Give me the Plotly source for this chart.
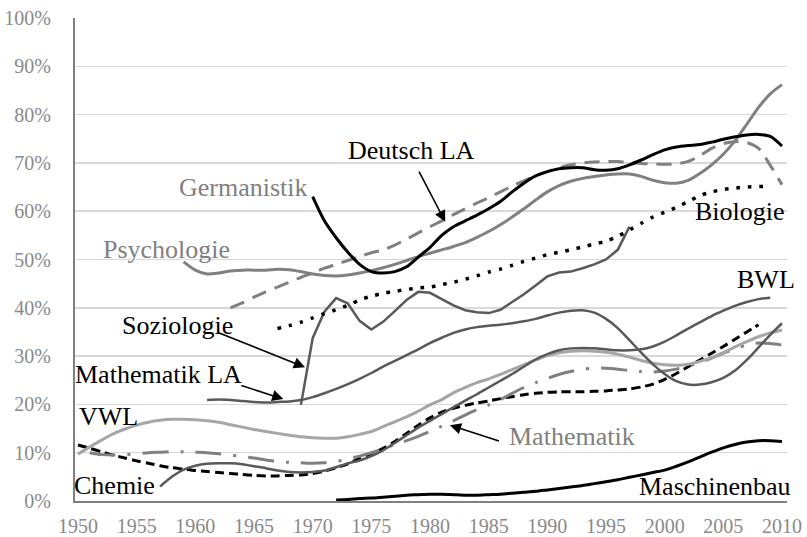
import plotly.graph_objects as go

# ---------------- data (share of women, %) ----------------
germanistik_start = 1970
germanistik = [63.0, 58.0, 54.5, 51.5, 49.0, 47.5, 47.2, 47.5, 48.5, 50.5,
               52.5, 55.0, 56.8, 58.0, 59.2, 60.5, 62.0, 64.0, 65.8, 67.3,
               68.2, 68.8, 69.0, 69.0, 68.6, 68.5, 68.8, 69.6, 70.6, 71.7,
               72.7, 73.3, 73.6, 73.8, 74.3, 74.9, 75.4, 75.8, 75.9, 75.5, 73.5]

psychologie_start = 1959
psychologie = [49.5, 47.8, 47.0, 47.2, 47.6, 47.8, 47.8, 47.8, 48.0, 47.9,
               47.5, 47.0, 46.7, 46.6, 46.8, 47.2, 47.7, 48.3, 49.0, 49.8,
               50.6, 51.3, 52.0, 52.7, 53.5, 54.6, 55.8, 57.2, 58.8, 60.5,
               62.3, 64.0, 65.3, 66.2, 66.8, 67.2, 67.5, 67.7, 67.7, 67.2,
               66.4, 65.9, 65.8, 66.4, 67.8, 69.6, 71.8, 74.6, 78.0, 81.5,
               84.3, 86.2]

deutsch_la_start = 1963
deutsch_la = [40.0, 41.0, 42.2, 43.3, 44.3, 45.3, 46.3, 47.2, 48.2, 49.0,
              49.8, 50.6, 51.4, 52.0, 53.0, 54.2, 55.5, 56.8, 58.0, 59.3,
              60.5, 61.7, 62.8, 64.0, 65.2, 66.3, 67.3, 68.2, 69.0, 69.6,
              70.0, 70.2, 70.3, 70.3, 70.1, 69.9, 69.8, 69.7, 69.8, 70.3,
              71.5, 73.0, 74.0, 74.4, 74.2, 73.0, 69.5, 65.5]

biologie_start = 1967
biologie = [35.7, 36.3, 37.0, 37.9, 38.8, 39.6, 40.5, 41.6, 42.4, 43.0,
            43.4, 43.8, 44.1, 44.3, 44.8, 45.3, 45.9, 46.6, 47.4, 48.0,
            48.8, 49.6, 50.3, 51.0, 51.5, 52.0, 52.6, 53.2, 53.8, 54.8,
            56.1, 57.5, 58.8, 59.8, 60.8, 62.0, 63.2, 64.0, 64.5, 64.8,
            65.0, 65.1, 65.2]

soziologie_start = 1969
soziologie = [19.9, 33.7, 39.2, 42.0, 40.9, 37.3, 35.5, 37.1, 39.3, 41.6,
              43.3, 43.1, 41.8, 40.5, 39.5, 39.1, 38.9, 39.6, 41.2, 42.8,
              44.6, 46.5, 47.3, 47.5, 48.2, 49.0, 50.0, 52.0, 56.8]

mathe_la_start = 1961
mathe_la = [20.9, 21.0, 20.9, 20.7, 20.5, 20.4, 20.5, 20.6, 20.9, 21.5,
            22.3, 23.2, 24.2, 25.3, 26.5, 27.8, 29.0, 30.2, 31.4, 32.7,
            33.8, 34.8, 35.5, 36.0, 36.3, 36.5, 36.8, 37.2, 37.7, 38.4,
            39.0, 39.4, 39.5, 39.0, 37.7, 35.8, 33.3, 30.7, 28.3, 26.3,
            24.8, 24.1, 24.1, 24.6, 25.5, 27.0, 29.2, 31.8, 34.4, 36.8]

bwl_start = 1957
bwl = [3.0, 5.0, 6.5, 7.3, 7.7, 7.8, 7.8, 7.6, 7.2, 6.8,
       6.3, 6.0, 5.9, 6.0, 6.3, 7.0, 7.8, 8.4, 9.3, 10.5,
       12.0, 13.6, 15.2, 16.6, 18.0, 19.4, 20.8, 22.1, 23.5, 24.9,
       26.3, 27.8, 29.3, 30.4, 31.2, 31.6, 31.7, 31.6, 31.4, 31.2,
       31.2, 31.4, 32.0, 33.0, 34.3, 35.7, 37.0, 38.3, 39.4, 40.4,
       41.2, 41.8, 42.1]

vwl_start = 1950
vwl = [9.7, 11.2, 12.6, 13.9, 14.9, 15.7, 16.3, 16.7, 16.9, 16.9,
       16.8, 16.6, 16.3, 15.8, 15.3, 14.8, 14.4, 14.0, 13.6, 13.3,
       13.1, 13.0, 13.0, 13.3, 13.8, 14.4, 15.4, 16.4, 17.4, 18.6,
       19.9, 21.0, 22.4, 23.5, 24.5, 25.3, 26.2, 27.2, 28.2, 29.2,
       30.1, 30.7, 31.0, 31.1, 31.0, 30.8, 30.4, 29.8, 29.1, 28.5,
       28.2, 28.1, 28.3, 28.9, 29.7, 30.7, 31.9, 33.0, 34.0, 34.8, 35.4]

mathematik_start = 1951
mathematik = [10.0, 9.6, 9.5, 9.6, 9.8, 10.0, 10.1, 10.2, 10.2, 10.1,
              10.0, 9.8, 9.5, 9.2, 8.9, 8.5, 8.2, 8.0, 7.9, 7.8,
              7.9, 8.2, 8.7, 9.3, 10.0, 10.8, 11.7, 12.5, 13.4, 14.4,
              15.5, 16.6, 17.8, 18.9, 19.9, 21.0, 22.3, 23.5, 24.5, 25.4,
              26.2, 26.8, 27.3, 27.5, 27.5, 27.3, 27.0, 26.8, 26.7, 26.9,
              27.3, 27.9, 28.7, 29.6, 30.6, 31.5, 32.3, 32.7, 32.6, 32.3]

chemie_start = 1950
chemie = [11.6, 10.9, 10.2, 9.5, 8.9, 8.3, 7.8, 7.3, 6.9, 6.6,
          6.3, 6.1, 5.9, 5.7, 5.5, 5.3, 5.2, 5.2, 5.3, 5.4,
          5.7, 6.2, 6.9, 7.7, 8.8, 9.8, 10.9, 12.3, 14.0, 15.7,
          17.2, 18.4, 19.2, 19.8, 20.3, 20.7, 21.2, 21.6, 22.0, 22.3,
          22.5, 22.6, 22.6, 22.6, 22.7, 22.8, 23.0, 23.2, 23.6, 24.2,
          25.2, 26.4, 27.8, 29.2, 30.6, 32.0, 33.5, 35.0, 36.5]

maschinenbau_start = 1972
maschinenbau = [0.2, 0.3, 0.5, 0.6, 0.8, 1.0, 1.2, 1.3, 1.4, 1.4,
                1.3, 1.2, 1.2, 1.3, 1.4, 1.6, 1.8, 2.0, 2.3, 2.6,
                2.9, 3.2, 3.6, 4.0, 4.4, 4.9, 5.4, 5.9, 6.4, 7.2,
                8.1, 9.1, 10.1, 11.0, 11.7, 12.2, 12.5, 12.5, 12.3]

x_ticks = [1950, 1955, 1960, 1965, 1970, 1975, 1980, 1985, 1990, 1995, 2000, 2005, 2010]
y_ticks = [0, 10, 20, 30, 40, 50, 60, 70, 80, 90, 100]

# ---------------- figure ----------------
FONT = "'Liberation Serif', 'DejaVu Serif', serif"
BLACK = "#000000"
GRAY = "#808080"
DGRAY = "#595959"
LGRAY = "#a6a6a6"

series = [
    ("Maschinenbau", maschinenbau_start, maschinenbau, BLACK, 3, "solid", "spline"),
    ("Chemie", chemie_start, chemie, BLACK, 3, "9px,5px", "spline"),
    ("Mathematik", mathematik_start, mathematik, GRAY, 3, "26px,12px,3px,12px", "spline"),
    ("VWL", vwl_start, vwl, LGRAY, 3, "solid", "spline"),
    ("BWL", bwl_start, bwl, DGRAY, 2.5, "solid", "spline"),
    ("Mathematik LA", mathe_la_start, mathe_la, DGRAY, 2.5, "solid", "spline"),
    ("Soziologie", soziologie_start, soziologie, DGRAY, 2.5, "solid", "linear"),
    ("Biologie", biologie_start, biologie, BLACK, 3.5, "3.5px,8px", "spline"),
    ("Psychologie", psychologie_start, psychologie, GRAY, 3, "solid", "spline"),
    ("Deutsch LA", deutsch_la_start, deutsch_la, GRAY, 3, "15px,9px", "spline"),
    ("Germanistik", germanistik_start, germanistik, BLACK, 3, "solid", "spline"),
]

fig = go.Figure()
for name, start, vals, color, width, dash, shape in series:
    years = list(range(start, start + len(vals)))
    line = dict(color=color, width=width, dash=dash, shape=shape)
    if shape == "spline":
        line["smoothing"] = 0.8
    fig.add_trace(go.Scatter(x=years, y=vals, mode="lines", name=name,
                             line=line, hoverinfo="skip"))

# text labels: (text, x, y, color)
labels = [
    ("Deutsch LA", 1978.4, 72.5, BLACK),
    ("Germanistik", 1964.1, 64.9, GRAY),
    ("Psychologie", 1957.5, 52.0, GRAY),
    ("Biologie", 2006.4, 60.0, BLACK),
    ("BWL", 2008.6, 45.8, BLACK),
    ("Soziologie", 1958.5, 36.3, BLACK),
    ("Mathematik LA", 1956.9, 26.1, BLACK),
    ("VWL", 1952.6, 17.4, BLACK),
    ("Chemie", 1953.1, 3.2, BLACK),
    ("Mathematik", 1992.1, 13.4, GRAY),
    ("Maschinenbau", 2004.25, 2.9, BLACK),
]
for text, x, y, color in labels:
    fig.add_annotation(x=x, y=y, text=text, showarrow=False,
                       xanchor="center", yanchor="middle",
                       font=dict(family=FONT, size=26, color=color))

# arrows: (tail_x, tail_y, tip_x, tip_y)
arrows = [
    (1979.0, 68.5, 1981.3, 57.8),
    (1961.8, 35.0, 1969.35, 27.7),
    (1963.8, 24.0, 1967.5, 21.1),
    (1986.0, 12.3, 1981.7, 15.7),
]
for ax_, ay_, x, y in arrows:
    fig.add_annotation(x=x, y=y, ax=ax_, ay=ay_, axref="x", ayref="y",
                       xref="x", yref="y", text="", showarrow=True,
                       arrowhead=2, arrowsize=1.4, arrowwidth=1.6,
                       arrowcolor=BLACK, standoff=0, startstandoff=0)

fig.update_layout(
    width=807, height=537,
    margin=dict(l=75, r=20, t=18, b=36, autoexpand=False),
    paper_bgcolor="white", plot_bgcolor="white",
    showlegend=False,
    font=dict(family=FONT),
)
fig.update_xaxes(
    range=[1949.744, 2010.426],
    tickmode="array", tickvals=x_ticks,
    ticktext=[str(t) for t in x_ticks],
    showgrid=False, zeroline=False, automargin=False,
    showline=True, linecolor=GRAY, linewidth=2,
    ticks="", ticklabelstandoff=6,
    tickfont=dict(family=FONT, size=20, color="#8a8a8a"),
)
fig.update_yaxes(
    range=[0, 100],
    tickmode="array", tickvals=y_ticks,
    ticktext=[f"{t}%" for t in y_ticks],
    showgrid=True, gridcolor="#d9d9d9", gridwidth=1.5,
    zeroline=False, automargin=False,
    showline=True, linecolor=GRAY, linewidth=2,
    ticks="", ticklabelstandoff=18,
    tickfont=dict(family=FONT, size=20, color="#8a8a8a"),
)

fig.write_html("out.html",
               config={"displayModeBar": False, "staticPlot": True},
               post_script="document.body.style.margin='0px';"
                           "document.body.style.overflow='hidden';")
